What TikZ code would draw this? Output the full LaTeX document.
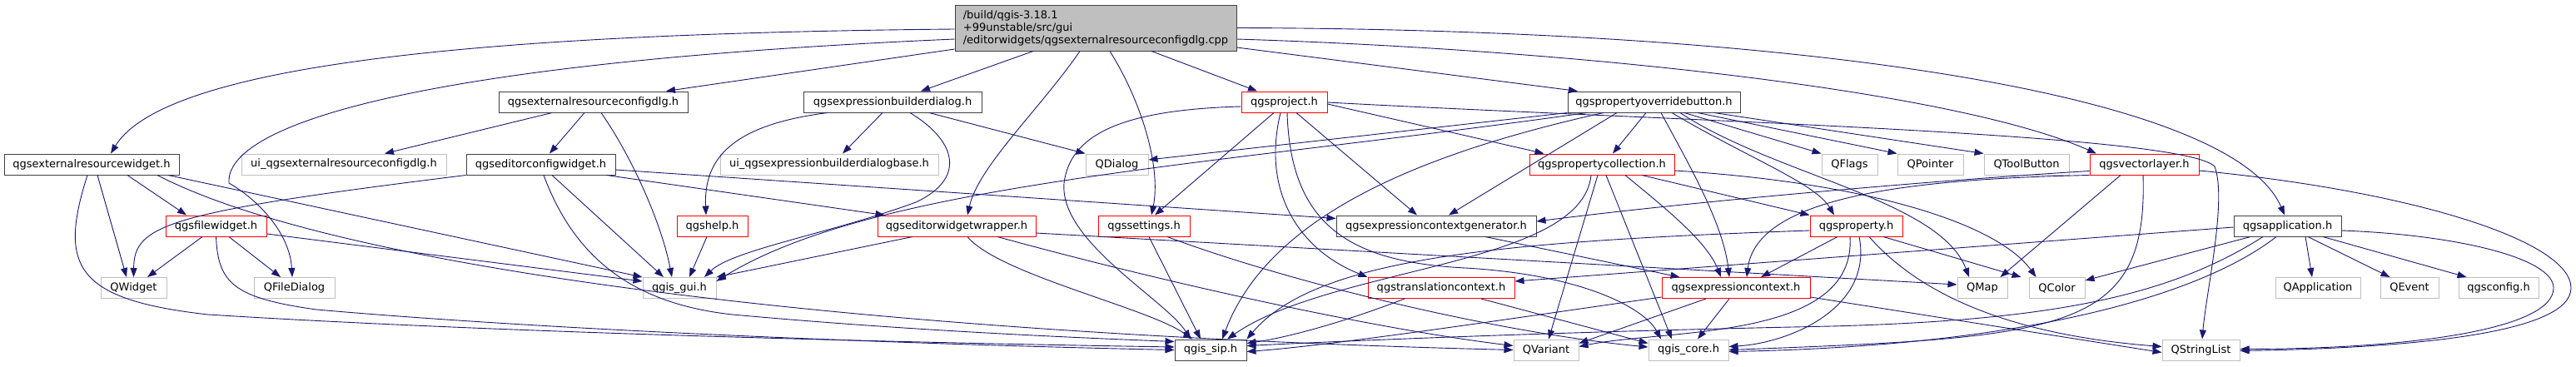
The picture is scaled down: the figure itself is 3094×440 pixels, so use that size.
\documentclass[tikz,border=0pt]{standalone}
\usepackage{fontspec}
\setmainfont{DejaVu Sans}
\usetikzlibrary{arrows.meta}
\definecolor{midnight}{RGB}{25,25,112}
\definecolor{boxred}{RGB}{255,0,0}
\definecolor{boxgray}{RGB}{191,191,191}
\definecolor{boxdark}{RGB}{64,64,64}

\begin{document}
\begin{tikzpicture}[x=1pt,y=-1pt,
  font=\fontsize{13}{15}\selectfont,
  every node/.style={rectangle, inner sep=0pt, minimum height=25pt, fill=white, line width=1pt},
  docnode/.style={draw=boxdark},
  trunc/.style={draw=boxred},
  undoc/.style={draw=boxgray},
  rootnode/.style={draw=boxdark, fill=boxgray, minimum height=55pt, align=left},
  inc/.style={draw=midnight, line width=0.9pt, -{Triangle[length=11pt,width=8pt]}}]

  \useasboundingbox (0,0) rectangle (3094,440);

  %% the file itself
  \node[rootnode, minimum width=338pt] (root) at (1316,33.5) {/build/qgis-3.18.1\\+99unstable/src/gui\\/editorwidgets/qgsexternalresourceconfigdlg.cpp};

  %% first row
  \node[docnode, minimum width=227pt] (extdlg) at (712.5,122.5) {qgsexternalresourceconfigdlg.h};
  \node[docnode, minimum width=214pt] (exprdlg) at (1072,122.5) {qgsexpressionbuilderdialog.h};
  \node[trunc, minimum width=103pt] (project) at (1542.5,122.5) {qgsproject.h};
  \node[docnode, minimum width=207pt] (overridebtn) at (1986.5,122.5) {qgspropertyoverridebutton.h};

  %% second row
  \node[docnode, minimum width=210pt] (extwidget) at (110,197.5) {qgsexternalresourcewidget.h};
  \node[undoc, minimum width=246pt] (uidlg) at (413,197.5) {ui\_qgsexternalresourceconfigdlg.h};
  \node[docnode, minimum width=179pt] (editorcfg) at (649.5,197.5) {qgseditorconfigwidget.h};
  \node[undoc, minimum width=262pt] (uiexpr) at (996,197.5) {ui\_qgsexpressionbuilderdialogbase.h};
  \node[undoc, minimum width=75pt] (qdialog) at (1341.5,197.5) {QDialog};
  \node[trunc, minimum width=174pt] (propcoll) at (1924,197.5) {qgspropertycollection.h};
  \node[undoc, minimum width=67pt] (qflags) at (2221.5,197.5) {QFlags};
  \node[undoc, minimum width=79pt] (qpointer) at (2318.5,197.5) {QPointer};
  \node[undoc, minimum width=102pt] (qtoolbutton) at (2434,197.5) {QToolButton};
  \node[trunc, minimum width=131pt] (vectorlayer) at (2575.5,197.5) {qgsvectorlayer.h};

  %% third row
  \node[trunc, minimum width=121pt] (filewidget) at (259.5,271.5) {qgsfilewidget.h};
  \node[trunc, minimum width=85pt] (help) at (855.5,271.5) {qgshelp.h};
  \node[trunc, minimum width=190pt] (wrapper) at (1149,271.5) {qgseditorwidgetwrapper.h};
  \node[trunc, minimum width=110pt] (settings) at (1374,271.5) {qgssettings.h};
  \node[docnode, minimum width=240pt] (generator) at (1725,271.5) {qgsexpressioncontextgenerator.h};
  \node[trunc, minimum width=111pt] (property) at (2229.5,271.5) {qgsproperty.h};
  \node[docnode, minimum width=129pt] (application) at (2747.5,271.5) {qgsapplication.h};

  %% fourth row
  \node[undoc, minimum width=79pt] (qwidget) at (160.5,346) {QWidget};
  \node[undoc, minimum width=97pt] (filedialog) at (353.5,346) {QFileDialog};
  \node[undoc, minimum width=88pt] (gui) at (816,346) {qgis\_gui.h};
  \node[trunc, minimum width=176pt] (translation) at (1731,346) {qgstranslationcontext.h};
  \node[trunc, minimum width=178pt] (exprcontext) at (2085,346) {qgsexpressioncontext.h};
  \node[undoc, minimum width=60pt] (qmap) at (2381,346) {QMap};
  \node[undoc, minimum width=67pt] (qcolor) at (2470.5,346) {QColor};
  \node[undoc, minimum width=102pt] (qapplication) at (2784,346) {QApplication};
  \node[undoc, minimum width=70pt] (qevent) at (2894,346) {QEvent};
  \node[undoc, minimum width=96pt] (qgsconfig) at (3001,346) {qgsconfig.h};

  %% bottom row
  \node[docnode, minimum width=86pt] (sip) at (1454,420.5) {qgis\_sip.h};
  \node[undoc, minimum width=78pt] (qvariant) at (1857,420.5) {QVariant};
  \node[undoc, minimum width=96pt] (core) at (2028,420.5) {qgis\_core.h};
  \node[undoc, minimum width=93pt] (qstringlist) at (2643.5,420.5) {QStringList};

  %% includes of the cpp
  \draw[inc] ([yshift=-1.5pt]root.west) .. controls (600,40) and (200,75) .. ([xshift=23pt]extwidget.north); %% root->extwidget
  \draw[inc] ([yshift=-13.5pt]root.west) .. controls (500,75) and (270,150) .. (275,220) .. controls (310,240) and (348,280) .. ([xshift=-2.5pt]filedialog.north); %% root->filedialog
  \draw[inc] ([yshift=-25.5pt]root.west) -- ([xshift=87.5pt]extdlg.north); %% root->extdlg
  \draw[inc] ([xshift=-75pt]root.south) -- ([xshift=34pt]exprdlg.north); %% root->exprdlg
  \draw[inc] ([xshift=-19pt]root.south) .. controls (1250,130) and (1175,200) .. ([xshift=13pt]wrapper.north); %% root->wrapper
  \draw[inc] ([xshift=17pt]root.south) .. controls (1370,120) and (1395,200) .. ([xshift=9pt]settings.north); %% root->settings
  \draw[inc] ([xshift=67pt]root.south) -- ([xshift=-32.5pt]project.north); %% root->project
  \draw[inc] ([yshift=-23.5pt]root.east) -- ([xshift=-91.5pt]overridebtn.north); %% root->overridebtn
  \draw[inc] ([yshift=-13.5pt]root.east) .. controls (1900,60) and (2350,110) .. ([xshift=-57.5pt]vectorlayer.north); %% root->vectorlayer
  \draw[inc] (root.east) .. controls (2150,35) and (2680,110) .. ([xshift=-3.5pt]application.north); %% root->application

  %% qgsexternalresourceconfigdlg.h
  \draw[inc] ([xshift=-49.5pt]extdlg.south) -- ([xshift=49pt]uidlg.north);
  \draw[inc] ([xshift=-10.5pt]extdlg.south) -- ([xshift=10.5pt]editorcfg.north);
  \draw[inc] ([xshift=9.5pt]extdlg.south) .. controls (760,190) and (795,270) .. ([xshift=-9pt]gui.north);

  %% qgsexpressionbuilderdialog.h
  \draw[inc] ([xshift=-12pt]exprdlg.south) -- ([xshift=16pt]uiexpr.north);
  \draw[inc] ([xshift=44pt]exprdlg.south) -- (qdialog.north west);
  \draw[inc] ([xshift=-78pt]exprdlg.south) .. controls (880,150) and (845,190) .. ([xshift=-7.5pt]help.north);
  \draw[inc] ([xshift=21pt]exprdlg.south) .. controls (1150,170) and (1160,215) .. (1100,243) .. controls (1000,280) and (880,300) .. ([xshift=30pt]gui.north);

  %% qgsexternalresourcewidget.h
  \draw[inc] ([xshift=7pt]extwidget.south) -- ([xshift=-8.5pt]qwidget.north);
  \draw[inc] ([xshift=43pt]extwidget.south) -- ([xshift=-35.5pt]filewidget.north);
  \draw[inc] ([xshift=92pt]extwidget.south) -- (gui.north west);
  \draw[inc] ([xshift=79pt]extwidget.south) .. controls (400,320) and (1000,400) .. (qvariant.west);
  \draw[inc] ([xshift=-5pt]extwidget.south) .. controls (70,320) and (90,360) .. (250,378) .. controls (600,400) and (1100,412) .. ([yshift=3.5pt]sip.west);

  %% qgsfilewidget.h
  \draw[inc] ([xshift=-16.5pt]filewidget.south) -- ([xshift=16.5pt]qwidget.north);
  \draw[inc] ([xshift=15.5pt]filewidget.south) -- ([xshift=-16.5pt]filedialog.north);
  \draw[inc] ([yshift=-9.5pt]filewidget.east) -- ([yshift=8pt]gui.west);
  \draw[inc] (filewidget.south) .. controls (262,340) and (280,358) .. (380,372) .. controls (700,400) and (1150,415) .. (sip.west);

  %% qgseditorconfigwidget.h
  \draw[inc] (editorcfg.south west) .. controls (200,255) and (161,270) .. (qwidget.north);
  \draw[inc] ([xshift=13.5pt]editorcfg.south) -- ([xshift=-19pt]gui.north);
  \draw[inc] ([xshift=3.5pt]editorcfg.south) .. controls (690,310) and (760,365) .. (880,378) .. controls (1100,398) and (1300,406) .. ([yshift=10pt]sip.west);
  \draw[inc] ([yshift=-6.5pt]editorcfg.east) -- ([yshift=9pt]generator.west);
  \draw[inc] ([xshift=-11pt]editorcfg.south east) -- ([xshift=9pt]wrapper.north west);

  %% qgshelp.h
  \draw[inc] ([xshift=-6.5pt]help.south) -- ([xshift=12pt]gui.north);

  %% qgseditorwidgetwrapper.h
  \draw[inc] ([xshift=-53pt]wrapper.south) -- (gui.north east);
  \draw[inc] ([xshift=13pt]wrapper.south) .. controls (1200,330) and (1380,370) .. ([xshift=-22pt]sip.north);
  \draw[inc] ([xshift=49pt]wrapper.south) .. controls (1400,340) and (1650,395) .. ([yshift=5pt]qvariant.west);
  \draw[inc] ([yshift=-8.5pt]wrapper.east) -- ([yshift=4pt]qmap.west);

  %% qgssettings.h
  \draw[inc] ([xshift=6pt]settings.south) -- ([xshift=-12pt]sip.north);
  \draw[inc] ([xshift=28pt]settings.south) .. controls (1550,340) and (1800,400) .. ([yshift=3.5pt]core.west);

  %% qgsproject.h
  \draw[inc] ([yshift=-5.5pt]project.west) .. controls (1340,132) and (1285,165) .. (1278,220) .. controls (1272,290) and (1400,360) .. ([xshift=-24pt]sip.north);
  \draw[inc] ([xshift=-12.5pt]project.south) -- ([xshift=13pt]settings.north);
  \draw[inc] ([xshift=14.5pt]project.south) -- ([xshift=-23pt]generator.north);
  \draw[inc] ([xshift=-4.5pt]project.south) .. controls (1515,230) and (1560,300) .. (translation.north west);
  \draw[inc] ([xshift=3.5pt]project.south) .. controls (1550,270) and (1620,315) .. (1760,322) .. controls (1900,330) and (1975,370) .. ([xshift=-33pt]core.north);
  \draw[inc] ([yshift=-2.5pt]project.east) -- ([xshift=18pt]propcoll.north west);
  \draw[inc] ([yshift=-0.5pt]project.east) .. controls (2000,145) and (2620,160) .. (2660,200) .. controls (2675,240) and (2650,350) .. ([xshift=1.5pt]qstringlist.north);

  %% qgspropertyoverridebutton.h
  \draw[inc] (overridebtn.south west) -- ([yshift=5.5pt]qdialog.east);
  \draw[inc] ([xshift=-80.5pt]overridebtn.south) .. controls (1450,200) and (1050,220) .. ([yshift=8pt]gui.east);
  \draw[inc] ([xshift=-44.5pt]overridebtn.south) -- ([xshift=15pt]generator.north);
  \draw[inc] ([xshift=-60.5pt]overridebtn.south) .. controls (1680,190) and (1520,270) .. ([xshift=14pt]sip.north);
  \draw[inc] ([xshift=-9.5pt]overridebtn.south) -- ([xshift=13pt]propcoll.north);
  \draw[inc] ([xshift=8.5pt]overridebtn.south) .. controls (2030,200) and (2070,270) .. ([xshift=-8pt]exprcontext.north);
  \draw[inc] ([xshift=21.5pt]overridebtn.south) .. controls (2100,190) and (2180,220) .. ([xshift=-26.5pt]property.north);
  \draw[inc] ([xshift=31.5pt]overridebtn.south) .. controls (2130,210) and (2330,240) .. ([xshift=-16pt]qmap.north);
  \draw[inc] ([xshift=36.5pt]overridebtn.south) -- (qflags.north west);
  \draw[inc] ([xshift=52.5pt]overridebtn.south) -- (qpointer.north west);
  \draw[inc] ([xshift=72.5pt]overridebtn.south) -- (qtoolbutton.north west);

  %% qgspropertycollection.h
  \draw[inc] ([xshift=-13pt]propcoll.south) .. controls (1900,320) and (1600,320) .. ([xshift=20pt]sip.north);
  \draw[inc] ([xshift=-5pt]propcoll.south) -- ([xshift=3pt]qvariant.north);
  \draw[inc] ([xshift=5pt]propcoll.south) -- ([xshift=-20pt]core.north);
  \draw[inc] ([xshift=28pt]propcoll.south) .. controls (2000,250) and (2050,290) .. ([xshift=-18pt]exprcontext.north);
  \draw[inc] ([xshift=48pt]propcoll.south) -- (property.north west);
  \draw[inc] ([yshift=-7.5pt]propcoll.east) .. controls (2250,220) and (2400,270) .. ([xshift=-25pt]qcolor.north);

  %% qgsexpressioncontextgenerator.h
  \draw[inc] ([xshift=59pt]generator.south) -- ([xshift=22pt]exprcontext.north west);

  %% qgsvectorlayer.h
  \draw[inc] ([yshift=-8pt]vectorlayer.west) .. controls (2350,215) and (2050,240) .. ([yshift=5.5pt]generator.east);
  \draw[inc] (vectorlayer.south west) .. controls (2300,215) and (2110,235) .. ([xshift=13pt]exprcontext.north);
  \draw[inc] ([xshift=-28.5pt]vectorlayer.south) -- ([xshift=-9pt]qmap.north east);
  \draw[inc] ([xshift=-1.5pt]vectorlayer.south) .. controls (2580,400) and (2480,405) .. (core.east);
  \draw[inc] ([yshift=-7.5pt]vectorlayer.east) .. controls (2900,230) and (3088,290) .. (3088,346) .. controls (3088,400) and (2900,418) .. ([yshift=-1pt]qstringlist.east);

  %% qgsapplication.h
  \draw[inc] ([yshift=-1.5pt]application.west) -- ([yshift=8pt]translation.east);
  \draw[inc] ([xshift=-44.5pt]application.south) -- ([yshift=9pt]qcolor.east);
  \draw[inc] ([xshift=-29.5pt]application.south) .. controls (2600,360) and (2450,385) .. (2200,392) .. controls (1900,398) and (1650,408) .. ([yshift=5pt]sip.east);
  \draw[inc] ([xshift=-13.5pt]application.south) .. controls (2650,350) and (2450,415) .. ([yshift=-2pt]core.east);
  \draw[inc] ([xshift=21.5pt]application.south) -- ([xshift=-7pt]qapplication.north);
  \draw[inc] ([xshift=24.5pt]application.south) -- ([xshift=12pt]qevent.north west);
  \draw[inc] ([xshift=42.5pt]application.south) -- ([xshift=10pt]qgsconfig.north west);
  \draw[inc] ([yshift=-5.5pt]application.east) .. controls (2950,282) and (3067,310) .. (3067,346) .. controls (3067,395) and (2900,419) .. ([yshift=1pt]qstringlist.east);

  %% qgstranslationcontext.h
  \draw[inc] ([xshift=-44pt]translation.south) .. controls (1620,385) and (1550,405) .. ([yshift=8pt]sip.east);
  \draw[inc] ([xshift=48pt]translation.south) -- ([yshift=8pt]core.west);

  %% qgsexpressioncontext.h
  \draw[inc] ([yshift=-11pt]exprcontext.west) .. controls (1800,385) and (1600,415) .. ([yshift=-2pt]sip.east);
  \draw[inc] ([xshift=-36pt]exprcontext.south) -- ([yshift=8pt]qvariant.east);
  \draw[inc] ([xshift=-8pt]exprcontext.south) -- ([xshift=11pt]core.north);
  \draw[inc] ([yshift=-11pt]exprcontext.east) -- ([yshift=-3pt]qstringlist.west);

  %% qgsproperty.h
  \draw[inc] ([xshift=-22.5pt]property.south) -- ([xshift=30pt]exprcontext.north);
  \draw[inc] ([yshift=-5.5pt]property.west) .. controls (1800,290) and (1580,310) .. (sip.north east);
  \draw[inc] ([xshift=-7.5pt]property.south) .. controls (2230,410) and (2000,395) .. ([yshift=4pt]qvariant.east);
  \draw[inc] ([xshift=3.5pt]property.south) .. controls (2250,370) and (2150,412) .. ([yshift=4pt]core.east);
  \draw[inc] ([xshift=15.5pt]property.south) .. controls (2320,370) and (2450,405) .. ([yshift=4pt]qstringlist.west);
  \draw[inc] ([xshift=32.5pt]property.south) -- ([xshift=-9pt]qcolor.north west);
\end{tikzpicture}
\end{document}
